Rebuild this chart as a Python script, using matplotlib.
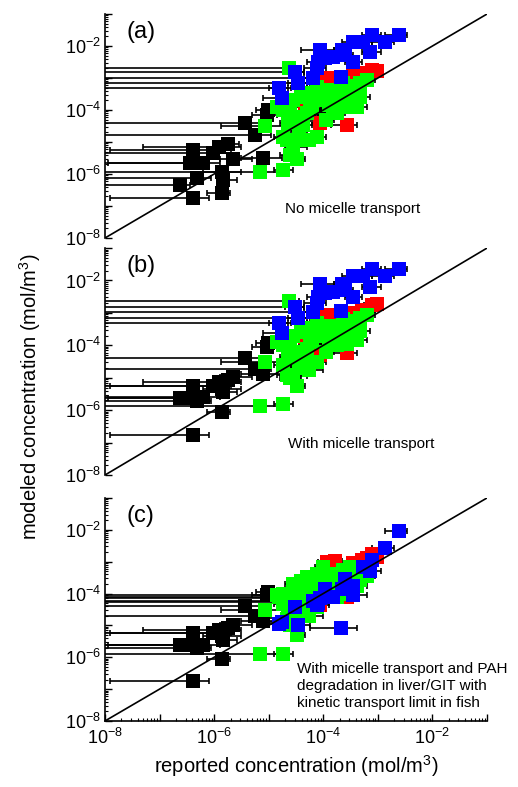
import numpy as np
import matplotlib
matplotlib.use('Agg')
import matplotlib.pyplot as plt
from matplotlib.ticker import LogLocator, FuncFormatter, NullFormatter

plt.rcParams['font.family'] = ['Liberation Sans', 'DejaVu Sans']
plt.rcParams['mathtext.fontset'] = 'custom'
plt.rcParams['mathtext.rm'] = 'Liberation Sans'
plt.rcParams['mathtext.default'] = 'regular'

# all values are log10 of concentration (mol/m3)
# x = reported value, lo/hi = ends of the x error bar (-9 means off the left edge)
# y_a, y_b, y_c = modeled value in panels (a), (b), (c)

black_x = [-6.38, -5.86, -6.63, -6.44, -6.38, -6.32, -6.20, -6.03, -5.92, -5.86,
           -5.75, -5.65, -5.26, -5.11, -5.43, -5.04, -5.01, -3.98, -5.84]
black_lo = [-7.90, -6.14, -9, -7.94, -7.90, -9, -9, -9, -7.30, -6.20,
            -6.00, -5.90, -9, -5.50, -9, -5.30, -5.23, -4.15, -5.95]
black_hi = [-6.09, -5.71, -6.45, -6.10, -6.00, -6.05, -5.90, -5.70, -5.50, -5.50,
            -5.55, -5.30, -4.95, -4.76, -5.16, -4.85, -4.88, -3.85, -5.59]
black_y_a = [-6.76, -6.60, -6.34, -5.67, -5.25, -6.14, -5.65, -5.35, -5.15, -5.93,
             -5.06, -5.54, -4.78, -5.51, -4.40, -4.16, -4.00, -4.16, -6.19]
black_y_bc = [-6.75, -6.07, -5.63, -5.63, -5.24, -5.71, -5.60, -5.24, -5.14, -5.34,
              -5.08, -4.98, -4.72, -4.87, -4.39, -4.04, -3.94, -4.09, -5.45]

red_x = [-3.11, -3.02, -3.30, -3.57, -4.06, -4.33, -3.94, -3.79, -3.45, -3.20]
red_lo = [-3.25, -3.15, -3.45, -3.85, -4.20, -4.50, -4.10, -3.95, -3.60, -3.35]
red_hi = [-2.95, -2.90, -3.15, -3.38, -3.90, -4.20, -3.80, -3.65, -3.30, -3.05]
red_y_a = [-2.75, -2.78, -2.85, -4.47, -4.42, -3.79, -3.00, -3.05, -2.95, -2.90]
red_y_b = [-2.75, -2.72, -2.90, -4.25, -4.30, -3.73, -3.05, -3.10, -3.00, -2.90]
red_y_c = [-2.76, -2.86, -2.95, -4.11, -4.35, -3.85, -3.02, -2.97, -3.05, -2.90]

green_x = [-5.16, -4.73, -5.07, -4.49, -4.61, -4.67, -4.55, -4.43, -4.73, -4.73,
           -4.85, -4.55, -4.55, -4.30, -4.30, -4.12, -4.12, -4.12, -4.00, -3.88,
           -3.82, -3.72, -3.63, -3.51, -3.45, -3.33, -3.33, -3.20, -3.39, -3.57,
           -3.75, -4.37, -4.61, -4.43, -4.27, -3.95, -4.20, -4.52, -4.18, -4.46,
           -4.82, -4.62, -4.40, -4.25, -3.95, -3.65, -3.50, -4.65, -4.45, -3.90]
green_lo = [-9, -4.90, -5.88, -4.60, -4.80, -4.85, -4.70, -4.60, -4.90, -4.90,
            -5.00, -4.70, -4.70, -4.45, -4.45, -4.30, -4.25, -4.30, -4.15, -4.05,
            -4.00, -3.90, -3.80, -3.70, -3.60, -3.50, -3.50, -3.35, -3.55, -3.75,
            -3.90, -4.55, -4.80, -4.60, -4.45, -4.10, -4.35, -9, -9, -9,
            -9, -9, -4.55, -4.40, -4.10, -3.80, -3.65, -4.80, -4.60, -4.05]
green_hi = [-4.85, -4.55, -4.76, -4.33, -4.40, -4.50, -4.30, -4.25, -4.60, -4.55,
            -4.70, -4.40, -4.40, -4.15, -4.15, -3.95, -3.95, -3.95, -3.85, -3.70,
            -3.65, -3.55, -3.45, -3.35, -3.30, -3.15, -3.15, -3.05, -3.20, -3.40,
            -3.60, -4.20, -4.45, -4.25, -4.00, -3.80, -4.05, -4.35, -4.05, -4.30,
            -4.65, -4.45, -4.25, -4.10, -3.80, -3.50, -3.35, -4.50, -4.30, -3.75]
green_y_a = [-5.93, -5.88, -4.50, -5.52, -5.41, -4.94, -5.15, -4.94, -4.85, -4.00,
             -3.90, -3.69, -4.21, -4.10, -3.48, -3.58, -4.85, -3.27, -3.69, -3.38,
             -3.90, -3.69, -3.17, -3.48, -3.69, -3.58, -3.17, -3.06, -3.90, -3.90,
             -4.10, -4.48, -3.90, -4.27, -4.94, -4.30, -3.90, -2.80, -2.99, -3.17,
             -3.32, -2.70, -3.60, -3.75, -3.50, -3.45, -3.25, -4.40, -4.65, -3.85]
green_y_b = [-5.86, -5.81, -4.51, -5.24, -5.00, -4.90, -4.95, -4.70, -4.60, -4.00,
             -3.90, -3.70, -4.20, -4.10, -3.45, -3.60, -4.50, -3.30, -3.70, -3.40,
             -3.90, -3.70, -3.20, -3.50, -3.75, -3.55, -3.15, -3.06, -3.85, -3.95,
             -4.00, -4.45, -3.90, -4.25, -4.75, -4.20, -3.90, -2.82, -2.97, -3.16,
             -3.31, -2.64, -3.60, -3.75, -3.55, -3.45, -3.25, -4.35, -4.50, -3.85]
green_y_c = [-5.91, -5.89, -4.53, -5.31, -5.00, -4.79, -4.32, -4.53, -4.32, -4.01,
             -4.05, -3.70, -4.50, -4.22, -3.49, -3.91, -4.43, -3.40, -3.18, -3.39,
             -3.60, -3.80, -3.25, -3.18, -3.70, -3.59, -3.20, -3.45, -3.75, -4.01,
             -4.12, -4.53, -4.22, -4.00, -4.70, -3.75, -3.70, -4.06, -4.15, -4.22,
             -4.10, -4.27, -3.60, -3.80, -3.45, -3.40, -3.35, -4.40, -4.70, -3.55]

blue_x = [-4.82, -4.76, -4.52, -4.46, -4.18, -4.12, -4.09, -4.06, -3.97, -3.82,
          -3.68, -3.66, -3.60, -3.45, -3.45, -3.27, -3.14, -3.11, -2.87, -2.62]
blue_lo = [-5.00, -5.10, -4.70, -4.65, -4.35, -4.35, -4.30, -4.40, -4.15, -4.00,
           -4.24, -3.80, -3.75, -3.65, -3.60, -3.45, -3.30, -3.30, -3.10, -2.87]
blue_hi = [-4.60, -4.55, -4.35, -4.25, -4.00, -3.95, -3.90, -3.80, -3.80, -3.65,
           -3.39, -3.55, -3.45, -3.20, -3.30, -3.10, -2.95, -2.95, -2.70, -2.47]
blue_y_a = [-3.32, -3.64, -2.80, -3.17, -2.99, -2.70, -2.49, -2.12, -2.39, -2.33,
            -2.96, -2.12, -2.28, -1.86, -2.49, -1.86, -2.18, -1.66, -1.86, -1.66]
blue_y_b = [-3.31, -3.63, -2.82, -3.16, -2.97, -2.70, -2.50, -2.11, -2.40, -2.35,
            -2.95, -2.11, -2.30, -1.85, -2.50, -1.85, -2.20, -1.65, -1.87, -1.65]
blue_y_c = [-4.95, -4.90, -4.43, -5.00, -4.22, -4.35, -4.30, -4.15, -3.85, -4.12,
            -5.08, -3.85, -3.54, -4.06, -3.75, -3.18, -3.28, -2.95, -2.58, -2.05]

panel_labels = ['(a)', '(b)', '(c)']
panel_notes = ['No micelle transport',
               'With micelle transport',
               'With micelle transport and PAH\ndegradation in liver/GIT with\nkinetic transport limit in fish']


def draw(ax, x, y, lo, hi, color):
    x = np.power(10.0, x)
    y = np.power(10.0, y)
    lo = np.power(10.0, lo)
    hi = np.power(10.0, hi)
    ax.errorbar(x, y, xerr=[x - lo, hi - x], fmt='none', ecolor='black',
                elinewidth=1.2, capsize=2.5, capthick=1.2, zorder=2)
    ax.plot(x, y, 's', color=color, markersize=10, markeredgewidth=0, zorder=3)


def even_decades(v, pos):
    e = int(round(np.log10(v)))
    if e % 2 == 0 and e <= -2:
        return r'$10^{%d}$' % e
    return ''


fig = plt.figure(figsize=(5.18, 7.87), dpi=100)
boxes = [[0.2027, 0.6976, 0.7375, 0.2846],
         [0.2027, 0.3964, 0.7375, 0.2884],
         [0.2027, 0.0839, 0.7375, 0.2834]]
ys = [(black_y_a, red_y_a, green_y_a, blue_y_a),
      (black_y_bc, red_y_b, green_y_b, blue_y_b),
      (black_y_bc, red_y_c, green_y_c, blue_y_c)]
note_pos = [(0.471, 0.13), (0.479, 0.137), (0.503, 0.157)]

for i in range(3):
    ax = fig.add_axes(boxes[i])
    ax.set_xscale('log')
    ax.set_yscale('log')
    ax.set_xlim(1e-8, 1e-1)
    ax.set_ylim(1e-8, 1e-1)

    by, ry, gy, uy = ys[i]
    draw(ax, black_x, by, black_lo, black_hi, 'black')
    draw(ax, red_x, ry, red_lo, red_hi, '#ff0000')
    draw(ax, green_x, gy, green_lo, green_hi, '#00ff00')
    draw(ax, blue_x, uy, blue_lo, blue_hi, '#0000ff')

    ax.plot([1e-8, 1e-1], [1e-8, 1e-1], color='black', lw=1.2, zorder=4)

    for s in ['top', 'right']:
        ax.spines[s].set_visible(False)
    ax.spines['left'].set_linewidth(1.2)
    ax.spines['bottom'].set_linewidth(1.2)

    for axis in [ax.xaxis, ax.yaxis]:
        axis.set_major_locator(LogLocator(base=10, numticks=20))
        axis.set_minor_locator(LogLocator(base=10, subs=np.arange(2, 10), numticks=20))
        axis.set_major_formatter(FuncFormatter(even_decades))
        axis.set_minor_formatter(NullFormatter())
    ax.tick_params(which='major', direction='in', length=5, width=1, labelsize=13, pad=3)
    ax.tick_params(which='minor', direction='in', length=2.5, width=0.8)
    ax.tick_params(axis='x', pad=5)

    if i < 2:
        ax.spines['bottom'].set_visible(False)
        ax.tick_params(axis='x', which='both', bottom=False, labelbottom=False)

    ax.text(0.055, 0.92, panel_labels[i], transform=ax.transAxes,
            fontsize=17, va='center', ha='left')
    ax.text(note_pos[i][0], note_pos[i][1], panel_notes[i], transform=ax.transAxes,
            fontsize=11, va='center', ha='left', linespacing=1.25, clip_on=False)

    if i == 2:
        ax.set_xlabel('reported concentration (mol/m$^3$)', fontsize=14.5, labelpad=4)

fig.text(0.058, 0.496, 'modeled concentration (mol/m$^3$)', rotation=90,
         fontsize=14.5, ha='center', va='center')

fig.savefig('out.png', dpi=100)
